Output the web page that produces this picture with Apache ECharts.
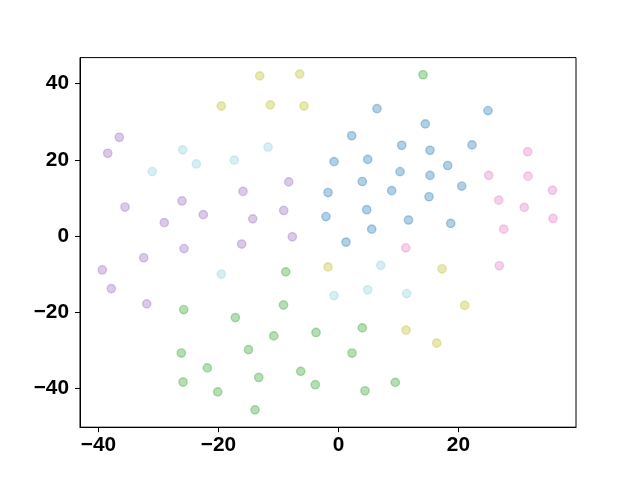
<!DOCTYPE html>
<html>
<head>
<meta charset="utf-8">
<script src="https://cdn.jsdelivr.net/npm/echarts@6/dist/echarts.min.js"></script>
<style>html,body{margin:0;padding:0;background:#fff;}#c{width:640px;height:480px;}</style>
</head>
<body>
<div id="c"></div>
<script>
const xTicks = [-40, -20, 0, 20];
const yTicks = [-40, -20, 0, 20, 40];

const blue = [[6.43,33.4],[2.22,26.3],[10.55,23.8],[-0.73,19.5],[4.88,20.1],[10.27,16.9],[3.98,14.3],[8.88,11.9],[-1.73,11.4],[4.72,6.9],[-2.07,5.1],[11.68,4.2],[5.55,1.8],[1.27,-1.6],[24.93,32.9],[14.48,29.4],[15.27,22.5],[22.27,23.9],[18.22,18.5],[15.27,15.9],[20.55,13.1],[15.1,10.3],[18.72,3.3]];
const pink = [[31.55,22.1],[25.05,15.9],[31.6,15.7],[35.68,12.0],[26.72,9.4],[30.98,7.5],[35.77,4.6],[27.55,1.8],[11.23,-3.1],[26.82,-7.8]];
const purple = [[-36.52,25.9],[-38.45,21.7],[-15.9,11.7],[-35.57,7.6],[-26.07,9.2],[-29.02,3.5],[-22.52,5.6],[-14.28,4.5],[-25.73,-3.3],[-32.45,-5.7],[-16.12,-2.1],[-39.35,-8.9],[-37.85,-13.8],[-31.95,-17.8],[-8.28,14.2],[-9.12,6.7],[-7.68,-0.2]];
const green = [[14.1,42.3],[-25.78,-19.3],[-17.18,-21.4],[-14.98,-29.8],[-26.18,-30.7],[-21.85,-34.6],[-25.9,-38.3],[-20.12,-40.9],[-8.78,-9.4],[-9.15,-18.1],[-10.78,-26.2],[-3.73,-25.3],[3.98,-24.1],[2.27,-30.7],[-13.28,-37.1],[-6.28,-35.5],[-3.85,-39.0],[4.43,-40.6],[9.48,-38.4],[-13.9,-45.6]];
const olive = [[-19.52,34.1],[-13.12,42.0],[-6.45,42.5],[-11.35,34.4],[-5.73,34.1],[-1.73,-8.1],[17.27,-8.6],[21.05,-18.2],[11.27,-24.7],[16.38,-28.1]];
const cyan = [[-25.95,22.6],[-23.68,18.9],[-17.35,19.9],[-31.02,16.9],[-11.73,23.3],[-19.52,-10.0],[-0.73,-15.6],[4.88,-14.1],[7.05,-7.7],[11.38,-15.1]];

const groups = [
  {data: blue, rgb: '31,119,180'},
  {data: green, rgb: '44,160,44'},
  {data: purple, rgb: '148,103,189'},
  {data: pink, rgb: '227,119,194'},
  {data: olive, rgb: '188,189,34'},
  {data: cyan, rgb: '140,205,220'}
];
const alpha = 0.35;

const labelStyle = {fontFamily: 'Liberation Sans', fontWeight: 'bold', fontSize: 20.8, color: '#000'};

const chart = echarts.init(document.getElementById('c'), null, {renderer: 'canvas'});
chart.setOption({
  animation: false,
  backgroundColor: '#fff',
  grid: {left: 80, right: 64, top: 57.6, bottom: 52.8, show: true, borderColor: '#000', borderWidth: 1, backgroundColor: 'transparent'},
  xAxis: {
    type: 'value', min: -43.07, max: 39.6,
    splitLine: {show: false},
    axisLine: {show: true, onZero: false, lineStyle: {color: '#000', width: 1}},
    axisTick: {show: true, length: 5, lineStyle: {color: '#000'}, customValues: xTicks},
    axisLabel: Object.assign({margin: 8, customValues: xTicks, formatter: v => String(v).replace('-', '\u2212')}, labelStyle)
  },
  yAxis: {
    type: 'value', min: -50.15, max: 46.8,
    splitLine: {show: false},
    axisLine: {show: true, onZero: false, lineStyle: {color: '#000', width: 1}},
    axisTick: {show: true, length: 5, lineStyle: {color: '#000'}, customValues: yTicks},
    axisLabel: Object.assign({margin: 11, customValues: yTicks, formatter: v => String(v).replace('-', '\u2212')}, labelStyle)
  },
  series: groups.map(g => ({
    type: 'scatter',
    data: g.data,
    symbol: 'circle',
    symbolSize: 8.33,
    itemStyle: {color: 'rgba(' + g.rgb + ',' + alpha + ')', borderColor: 'rgba(' + g.rgb + ',' + alpha + ')', borderWidth: 1.39, opacity: 1},
    emphasis: {disabled: true}
  }))
});
</script>
</body>
</html>
